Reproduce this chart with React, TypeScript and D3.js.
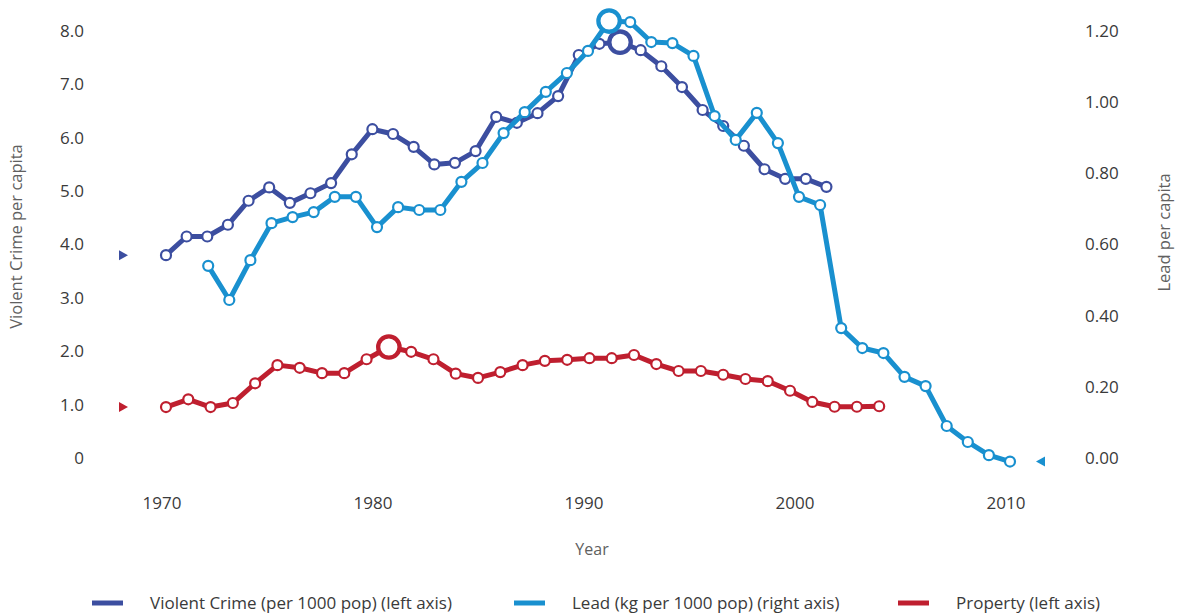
import React from "react";
import * as d3 from "d3";

// axis ticks
const xTicks = [1970, 1980, 1990, 2000, 2010];
const leftTicks = [0, 1, 2, 3, 4, 5, 6, 7, 8];
const rightTicks = [0, 0.2, 0.4, 0.6, 0.8, 1.0, 1.2];

// violent crime (per 1000 pop), left axis, first/last year of the series
const crimeSpan = [1970, 2001.3];
const crimeValues = [
  3.8, 4.15, 4.15, 4.37, 4.82, 5.07, 4.78, 4.96, 5.15, 5.69, 6.16, 6.07, 5.83, 5.5, 5.53, 5.75,
  6.39, 6.28, 6.46, 6.78, 7.55, 7.76, 7.79, 7.64, 7.34, 6.95, 6.52, 6.22, 5.85, 5.41, 5.23, 5.23, 5.08,
];

// lead (kg per 1000 pop), right axis
const leadSpan = [1972, 2010];
const leadValues = [
  0.54, 0.444, 0.556, 0.66, 0.677, 0.691, 0.734, 0.734, 0.649, 0.705, 0.697, 0.697, 0.776, 0.829,
  0.913, 0.972, 1.029, 1.082, 1.144, 1.228, 1.225, 1.169, 1.166, 1.13, 0.961, 0.894, 0.97, 0.885,
  0.734, 0.711, 0.365, 0.309, 0.295, 0.228, 0.202, 0.09, 0.045, 0.008, -0.01,
];

// property, left axis
const propertySpan = [1970, 2003.8];
const propertyValues = [
  0.955, 1.1, 0.955, 1.03, 1.4, 1.74, 1.69, 1.59, 1.59, 1.85, 2.08, 1.99, 1.85, 1.58, 1.5, 1.61,
  1.74, 1.82, 1.84, 1.87, 1.87, 1.93, 1.76, 1.63, 1.63, 1.56, 1.48, 1.44, 1.26, 1.05, 0.96, 0.96, 0.97,
];

const W = 1185;
const H = 615;
const FONT = "'Open Sans', Lato, sans-serif";

const x = d3.scaleLinear().domain([1970, 2010]).range([166, 1010]);
const yLeft = d3.scaleLinear().domain([0, 8]).range([458, 31]);
const yRight = d3.scaleLinear().domain([0, 1.2]).range([458, 31]);

const series = [
  { key: "crime", label: "Violent Crime (per 1000 pop) (left axis)", values: crimeValues, span: crimeSpan, y: yLeft, color: "#3c4ea0", side: "left" },
  { key: "lead", label: "Lead (kg per 1000 pop) (right axis)", values: leadValues, span: leadSpan, y: yRight, color: "#1990cf", side: "right" },
  { key: "property", label: "Property (left axis)", values: propertyValues, span: propertySpan, y: yLeft, color: "#bf1f2f", side: "left" },
];

const legendPos = [92, 514, 898];

export default function App() {
  return (
    <svg width={W} height={H} style={{ position: "absolute", left: 0, top: 0, background: "#fff" }} fontFamily={FONT}>
      {/* left axis */}
      {leftTicks.map((t) => (
        <text key={"l" + t} x={84} y={yLeft(t)} dy="0.35em" textAnchor="end" fontSize={17} fill="#3a3a3a">
          {t === 0 ? "0" : t.toFixed(1)}
        </text>
      ))}
      <text transform={`translate(22,${(31 + 458) / 2 - 8}) rotate(-90)`} textAnchor="middle" fontSize={16.5} fill="#606060">
        Violent Crime per capita
      </text>

      {/* right axis */}
      {rightTicks.map((t) => (
        <text key={"r" + t} x={1085} y={yRight(t)} dy="0.35em" textAnchor="start" fontSize={17} fill="#3a3a3a">
          {t.toFixed(2)}
        </text>
      ))}
      <text transform={`translate(1170,${(31 + 458) / 2 - 12}) rotate(-90)`} textAnchor="middle" fontSize={16.5} fill="#606060">
        Lead per capita
      </text>

      {/* x axis */}
      {xTicks.map((t) => (
        <text key={"x" + t} x={x(t) - 4} y={503} dy="0.35em" textAnchor="middle" fontSize={17} fill="#3a3a3a">
          {t}
        </text>
      ))}
      <text x={592} y={549} dy="0.35em" textAnchor="middle" fontSize={16} fill="#606060">
        Year
      </text>

      {/* series */}
      {series.map((s) => {
        const idx = d3.scaleLinear().domain([0, s.values.length - 1]).range(s.span);
        const pts = s.values.map((v, i) => [x(idx(i)), s.y(v)] as [number, number]);
        const line = d3.line();
        const maxI = d3.maxIndex(s.values);
        const edge = s.side === "left" ? pts[0] : pts[pts.length - 1];
        const tri =
          s.side === "left"
            ? `M${119},${edge[1] - 5}L${128},${edge[1]}L${119},${edge[1] + 5}Z`
            : `M${1045},${edge[1] - 5}L${1036},${edge[1]}L${1045},${edge[1] + 5}Z`;
        return (
          <g key={s.key}>
            <path d={tri} fill={s.color} />
            <path d={line(pts) || ""} fill="none" stroke={s.color} strokeWidth={5} strokeLinejoin="round" />
            {pts.map((p, i) =>
              i === maxI ? null : (
                <circle key={i} cx={p[0]} cy={p[1]} r={5} fill="#fff" stroke={s.color} strokeWidth={2.2} />
              )
            )}
            <circle cx={pts[maxI][0]} cy={pts[maxI][1]} r={10.7} fill="#fff" stroke={s.color} strokeWidth={4.3} />
          </g>
        );
      })}

      {/* legend */}
      {series.map((s, i) => (
        <g key={"lg" + s.key} transform={`translate(${legendPos[i]},603)`}>
          <line x1={0} x2={31} y1={0} y2={0} stroke={s.color} strokeWidth={5} />
          <text x={58} y={0} dy="0.35em" fontSize={17} fill="#3a3a3a">
            {s.label}
          </text>
        </g>
      ))}
    </svg>
  );
}
